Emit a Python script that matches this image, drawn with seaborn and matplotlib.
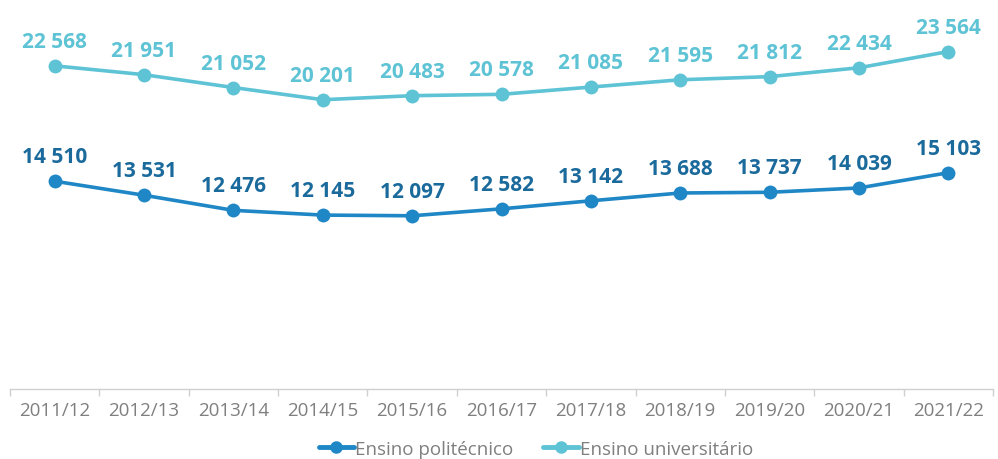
import numpy as np
import pandas as pd
import matplotlib
matplotlib.use("Agg")
import matplotlib.pyplot as plt
import seaborn as sns

# Data
years = ["2011/12", "2012/13", "2013/14", "2014/15", "2015/16", "2016/17",
         "2017/18", "2018/19", "2019/20", "2020/21", "2021/22"]
politecnico = [14510, 13531, 12476, 12145, 12097, 12582, 13142, 13688, 13737, 14039, 15103]
universitario = [22568, 21951, 21052, 20201, 20483, 20578, 21085, 21595, 21812, 22434, 23564]

series_names = ["Ensino politécnico", "Ensino universitário"]
line_colors = ["#1F87C5", "#5EC3D5"]
label_colors = ["#1B6A9C", "#5EC3D5"]

df = pd.DataFrame({
    "ano": years * 2,
    "x": list(range(len(years))) * 2,
    "valor": politecnico + universitario,
    "tipo": [series_names[0]] * len(years) + [series_names[1]] * len(years),
})

sns.set_style("white")
plt.rcParams["font.family"] = ["Open Sans", "DejaVu Sans"]

fig = plt.figure(figsize=(9.98, 4.6), dpi=100)
ax = fig.add_axes([10 / 998, 1 - 390 / 460, 983 / 998, 358 / 460])

sns.lineplot(data=df, x="x", y="valor", hue="tipo", palette=line_colors,
             marker="o", markersize=10, markeredgewidth=0, linewidth=2.6,
             ax=ax, legend=False)

# data labels
for vals, col in zip([politecnico, universitario], label_colors):
    for i, v in enumerate(vals):
        ax.annotate(f"{v:,}".replace(",", " "), (i, v), xytext=(0, 10),
                    textcoords="offset points", ha="center", va="bottom",
                    fontsize=15, fontweight="bold", color=col)

ax.set_ylim(0, 25000)
ax.set_xlim(-0.5, len(years) - 0.5)
ax.set_yticks([])
ax.set_xticks(range(len(years)))
ax.set_xticklabels(years, fontsize=13.5, color="#7F7F7F")
ax.set_xticks(np.arange(-0.5, len(years), 1.0), minor=True)
ax.tick_params(axis="x", which="major", length=0, pad=9)
ax.tick_params(axis="x", which="minor", bottom=True, length=5,
               color="#D0D0D0", width=1, direction="out")
ax.set_xlabel("")
ax.set_ylabel("")
for side in ["top", "right", "left"]:
    ax.spines[side].set_visible(False)
ax.spines["bottom"].set_color("#D0D0D0")
ax.spines["bottom"].set_linewidth(1)

handles = [plt.Line2D([], [], color=c, marker="o", markersize=8, linewidth=3.5)
           for c in line_colors]
leg = ax.legend(handles, series_names, loc="upper center",
                bbox_to_anchor=(0.535, -0.095), ncol=2, frameon=False,
                fontsize=13.5, handlelength=1.9, handletextpad=0.05, columnspacing=1.6)
for t in leg.get_texts():
    t.set_color("#7F7F7F")

fig.savefig("out.png", dpi=100)
